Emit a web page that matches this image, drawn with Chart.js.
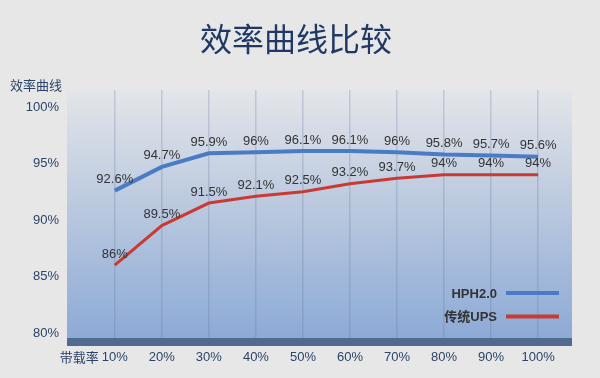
<!DOCTYPE html>
<html>
<head>
<meta charset="utf-8">
<script src="https://cdn.jsdelivr.net/npm/chart.js@4/dist/chart.umd.min.js"></script>
<style>
  html, body { margin: 0; padding: 0; background: #e7e7e7; }
  #wrap { width: 600px; height: 378px; }
</style>
</head>
<body>
<div id="wrap"><canvas id="c" width="600" height="378"></canvas></div>
<script>
// Load levels (%) on the x axis
const loadLevels = [10, 20, 30, 40, 50, 60, 70, 80, 90, 100];
// Efficiency (%) at each load level
const hphValues = [92.6, 94.7, 95.9, 96, 96.1, 96.1, 96, 95.8, 95.7, 95.6];
const upsValues = [86, 89.5, 91.5, 92.1, 92.5, 93.2, 93.7, 94, 94, 94];
const seriesNames = ['HPH2.0', '传统UPS'];
const yTickValues = [80, 85, 90, 95, 100];
const chartTitle = '效率曲线比较';

const FONT = "'Liberation Sans', 'Noto Sans CJK SC', sans-serif";
const CJK = "'Noto Sans CJK SC', 'Liberation Sans', sans-serif";

const toPoints = vals => loadLevels.map((x, i) => ({ x: x, y: vals[i] }));

// Plot background gradient, the dark base band and outer fill
const backdrop = {
  id: 'backdrop',
  beforeDraw(chart) {
    const { ctx, chartArea: a } = chart;
    ctx.save();
    ctx.fillStyle = '#e7e7e7';
    ctx.fillRect(0, 0, chart.width, chart.height);
    const g = ctx.createLinearGradient(0, a.top, 0, a.bottom);
    g.addColorStop(0, '#e3e5e9');
    g.addColorStop(0.45, '#bccadf');
    g.addColorStop(1, '#8daad6');
    ctx.fillStyle = g;
    ctx.fillRect(a.left, a.top, a.right - a.left, a.bottom - a.top);
    ctx.fillStyle = '#536a90';
    ctx.fillRect(a.left, a.bottom, a.right - a.left, 8);
    ctx.restore();
  }
};

// Title, value labels above each point, axis captions and the legend
const annotations = {
  id: 'annotations',
  afterDatasetsDraw(chart) {
    const { ctx, chartArea: a, scales } = chart;
    ctx.save();
    // title
    ctx.font = '32px ' + CJK;
    ctx.fillStyle = '#1f3864';
    ctx.textAlign = 'center';
    ctx.textBaseline = 'middle';
    ctx.fillText(chartTitle, 296, 39);
    // value labels
    ctx.font = '13px ' + FONT;
    ctx.fillStyle = '#333333';
    chart.data.datasets.forEach((ds, di) => {
      const meta = chart.getDatasetMeta(di);
      meta.data.forEach((pt, i) => {
        ctx.fillText(ds.data[i].y + '%', pt.x, pt.y - 11);
      });
    });
    // axis captions
    ctx.font = '13px ' + CJK;
    ctx.fillStyle = '#2c4468';
    ctx.textAlign = 'right';
    ctx.fillText('带载率', scales.x.getPixelForValue(loadLevels[0]) - 16, 357);
    ctx.textAlign = 'left';
    ctx.fillText('效率曲线', 10, 85);
    // legend (text then line sample, bottom right inside the plot)
    chart.data.datasets.forEach((ds, di) => {
      const y = a.bottom - 45 + di * 23.5;
      ctx.font = 'bold 13px ' + FONT;
      ctx.fillStyle = '#333333';
      ctx.textAlign = 'right';
      ctx.fillText(ds.label, a.right - 75, y + 1);
      ctx.strokeStyle = ds.borderColor;
      ctx.lineWidth = 4;
      ctx.beginPath();
      ctx.moveTo(a.right - 66, y);
      ctx.lineTo(a.right - 13, y);
      ctx.stroke();
    });
    ctx.restore();
  }
};

new Chart(document.getElementById('c'), {
  type: 'line',
  data: {
    datasets: [
      {
        label: seriesNames[0],
        data: toPoints(hphValues),
        borderColor: '#4a7cc6',
        borderWidth: 4,
        pointRadius: 0,
        tension: 0
      },
      {
        label: seriesNames[1],
        data: toPoints(upsValues),
        borderColor: '#c93a33',
        borderWidth: 3,
        pointRadius: 0,
        tension: 0
      }
    ]
  },
  options: {
    responsive: false,
    animation: false,
    events: [],
    layout: { padding: { left: 0, right: 28, top: 90, bottom: 0 } },
    plugins: {
      legend: { display: false },
      tooltip: { enabled: false },
      title: { display: false }
    },
    scales: {
      x: {
        type: 'linear',
        min: -0.16,
        max: 107.2,
        afterBuildTicks(scale) { scale.ticks = loadLevels.map(v => ({ value: v })); },
        afterFit(scale) { scale.height = 40; },
        grid: {
          display: true,
          drawTicks: false,
          color: 'rgba(95,120,160,0.26)',
          lineWidth: 1.5
        },
        border: { display: false },
        ticks: {
          padding: 12,
          color: '#2c4468',
          font: { family: FONT, size: 13 },
          callback: v => v + '%'
        }
      },
      y: {
        type: 'linear',
        min: 79.56,
        max: 101.5,
        afterBuildTicks(scale) { scale.ticks = yTickValues.map(v => ({ value: v })); },
        afterFit(scale) { scale.width = 67; },
        grid: { display: false, drawTicks: false },
        border: { display: false },
        ticks: {
          padding: 8,
          color: '#2c4468',
          font: { family: FONT, size: 13 },
          callback: v => v + '%'
        }
      }
    }
  },
  plugins: [backdrop, annotations]
});
</script>
</body>
</html>
